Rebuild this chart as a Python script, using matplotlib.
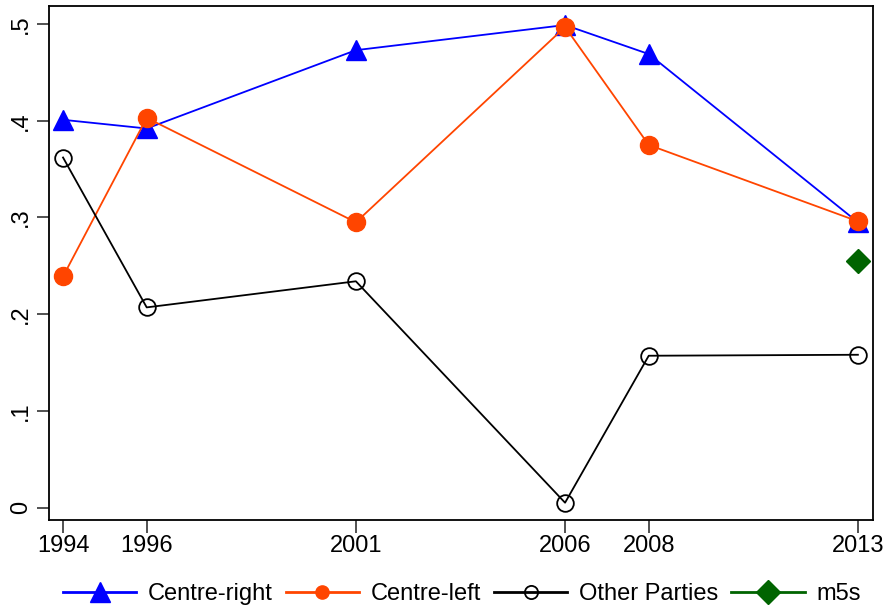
import matplotlib.pyplot as plt
from matplotlib.ticker import FuncFormatter

plt.rcParams['font.family'] = ['Liberation Sans', 'DejaVu Sans']

years = [1994, 1996, 2001, 2006, 2008, 2013]
centre_right = [0.401, 0.392, 0.473, 0.499, 0.469, 0.295]
centre_left = [0.239, 0.403, 0.295, 0.497, 0.375, 0.296]
other_parties = [0.362, 0.207, 0.234, 0.005, 0.157, 0.158]
m5s_year = [2013]
m5s = [0.255]

fig = plt.figure(figsize=(8.85, 6.08), dpi=100)
ax = fig.add_axes([0.0554, 0.1447, 0.931, 0.8453])

ax.plot(years, centre_right, color='#0000ff', lw=1.3, marker='^', ms=14,
        label='Centre-right')
ax.plot(years, centre_left, color='#ff4500', lw=1.3, marker='o', ms=13,
        label='Centre-left')
ax.plot(years, other_parties, color='black', lw=1.3, marker='o', ms=12,
        mfc='none', mew=1.3, label='Other Parties')
ax.plot(m5s_year, m5s, color='#006400', lw=1.3, marker='D', ms=12,
        label='m5s')

ax.set_xlim(1993.665, 2013.36)
ax.set_ylim(-0.0129, 0.5186)
ax.set_xticks(years)
ax.set_yticks([0, 0.1, 0.2, 0.3, 0.4, 0.5])
ax.yaxis.set_major_formatter(FuncFormatter(
    lambda v, p: '0' if v == 0 else ('%.1f' % v).lstrip('0')))
for lab in ax.get_yticklabels():
    lab.set_rotation(90)
    lab.set_va('center')
ax.tick_params(axis='both', labelsize=17, length=9, width=1.2,
               color='#333333', direction='out')
ax.tick_params(axis='y', pad=3)
ax.tick_params(axis='x', pad=2)
for s in ax.spines.values():
    s.set_linewidth(1.3)

leg = fig.legend(loc='lower center', bbox_to_anchor=(0.522, -0.03), ncol=4,
                 frameon=False, fontsize=17, handlelength=3.1,
                 columnspacing=0.55, handletextpad=0.5)
# legend markers are drawn a bit smaller than on the plot
for line, size in zip(leg.get_lines(), [14, 9.5, 9.5, 12]):
    line.set_linewidth(2)
    line.set_markersize(size)

fig.savefig('out.png', dpi=100)
